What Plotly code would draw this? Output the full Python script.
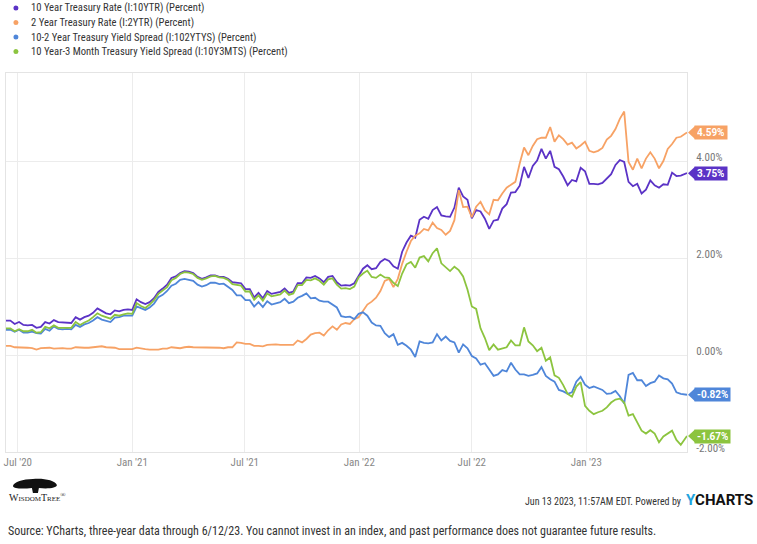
import plotly.graph_objects as go
import pandas as pd

# ---------------- data (weekly readings, last point 12 Jun 2023) ----------------
dates = list(pd.date_range("2020-06-12", periods=156, freq="7D")) + [pd.Timestamp("2023-06-12")]

ten_year = [
    0.71, 0.71, 0.64, 0.68, 0.62, 0.61, 0.62, 0.56, 0.58, 0.68, 0.65, 0.72, 0.68, 0.67, 0.67, 0.66,
    0.78, 0.73, 0.78, 0.81, 0.87, 0.96, 0.91, 0.86, 0.84, 0.92, 0.90, 0.93, 0.94,
    0.93, 1.15, 1.09, 1.05, 1.09, 1.17, 1.30, 1.37, 1.45, 1.59, 1.62, 1.69, 1.73, 1.72, 1.69, 1.61,
    1.57, 1.60, 1.64, 1.64, 1.61, 1.61, 1.57, 1.50, 1.49, 1.48, 1.36, 1.36, 1.19, 1.28, 1.17, 1.32,
    1.26, 1.28, 1.30, 1.37, 1.28, 1.31, 1.48, 1.48, 1.60, 1.59, 1.63, 1.58, 1.50, 1.61, 1.63, 1.50,
    1.43, 1.44, 1.43, 1.48,
    1.63, 1.78, 1.85, 1.77, 1.79, 1.92, 1.98, 1.94, 1.83, 1.78, 2.13, 2.32, 2.46, 2.42, 2.79, 2.85,
    2.81, 2.99, 3.05, 2.88, 2.86, 2.85, 3.04, 3.45, 3.27, 3.20, 2.82, 2.99, 2.96, 2.81, 2.60, 2.77,
    2.79, 3.02, 3.11, 3.35, 3.36, 3.49, 3.88, 3.65, 3.90, 4.01, 4.25, 4.05, 4.21, 3.88, 3.83, 3.68,
    3.50, 3.61, 3.58, 3.86,
    3.79, 3.53, 3.53, 3.52, 3.55, 3.64, 3.73, 3.92, 4.02, 3.98, 3.57, 3.48, 3.53, 3.33, 3.41, 3.60,
    3.50, 3.45, 3.52, 3.51, 3.76, 3.69, 3.70, 3.75,
]

two_year = [
    0.19, 0.19, 0.16, 0.16, 0.16, 0.15, 0.14, 0.11, 0.14, 0.14, 0.15, 0.13, 0.14, 0.14, 0.13, 0.13,
    0.16, 0.15, 0.15, 0.15, 0.16, 0.18, 0.18, 0.16, 0.16, 0.15, 0.12, 0.12, 0.13,
    0.12, 0.15, 0.13, 0.12, 0.11, 0.11, 0.11, 0.13, 0.13, 0.16, 0.15, 0.14, 0.16, 0.17, 0.16, 0.16,
    0.16, 0.16, 0.15, 0.15, 0.15, 0.14, 0.16, 0.16, 0.26, 0.25, 0.23, 0.23, 0.19, 0.19, 0.18, 0.21,
    0.22, 0.22, 0.21, 0.21, 0.21, 0.21, 0.30, 0.26, 0.33, 0.42, 0.45, 0.46, 0.40, 0.51, 0.59, 0.52,
    0.63, 0.66, 0.64, 0.74,
    0.78, 0.90, 1.04, 1.10, 1.18, 1.32, 1.53, 1.57, 1.40, 1.57, 1.88, 2.13, 2.35, 2.46, 2.51, 2.60,
    2.57, 2.73, 2.62, 2.58, 2.48, 2.56, 2.78, 3.40, 3.05, 3.06, 2.84, 3.06, 3.16, 2.98, 2.90, 3.20,
    3.19, 3.33, 3.45, 3.51, 3.57, 3.95, 4.28, 4.12, 4.31, 4.45, 4.48, 4.48, 4.70, 4.40, 4.53, 4.45,
    4.34, 4.38, 4.26, 4.32,
    4.40, 4.21, 4.18, 4.21, 4.27, 4.44, 4.52, 4.66, 4.87, 5.02, 3.98, 3.82, 4.05, 3.85, 4.05, 4.18,
    4.05, 3.85, 4.00, 4.25, 4.35, 4.48, 4.50, 4.59,
]

spread_10_2 = [
    0.52, 0.52, 0.48, 0.52, 0.46, 0.46, 0.48, 0.45, 0.44, 0.54, 0.50, 0.59, 0.54, 0.53, 0.54, 0.53,
    0.62, 0.58, 0.63, 0.66, 0.71, 0.78, 0.73, 0.70, 0.68, 0.77, 0.78, 0.81, 0.81,
    0.81, 1.00, 0.96, 0.93, 0.98, 1.06, 1.19, 1.24, 1.32, 1.43, 1.47, 1.55, 1.57, 1.55, 1.53, 1.45,
    1.41, 1.44, 1.49, 1.49, 1.46, 1.47, 1.41, 1.34, 1.23, 1.23, 1.13, 1.13, 1.00, 1.09, 0.99, 1.11,
    1.04, 1.06, 1.09, 1.16, 1.07, 1.10, 1.18, 1.22, 1.27, 1.17, 1.18, 1.12, 1.10, 1.10, 1.04, 0.98,
    0.80, 0.78, 0.79, 0.74,
    0.85, 0.88, 0.81, 0.67, 0.61, 0.60, 0.45, 0.37, 0.43, 0.21, 0.25, 0.19, 0.11, -0.04, 0.28, 0.25,
    0.24, 0.26, 0.43, 0.30, 0.38, 0.29, 0.26, 0.05, 0.22, 0.14, -0.02, -0.07, -0.20, -0.17, -0.30, -0.43,
    -0.40, -0.31, -0.34, -0.16, -0.30, -0.40, -0.40, -0.43, -0.41, -0.38, -0.25, -0.43, -0.50, -0.55, -0.72, -0.75,
    -0.80, -0.77, -0.55, -0.45,
    -0.61, -0.68, -0.65, -0.69, -0.72, -0.80, -0.79, -0.74, -0.85, -1.00, -0.41, -0.37, -0.52, -0.52, -0.64, -0.58,
    -0.55, -0.42, -0.48, -0.50, -0.59, -0.77, -0.80, -0.82,
]

spread_10_3m = [
    0.55, 0.55, 0.49, 0.53, 0.49, 0.49, 0.52, 0.46, 0.47, 0.58, 0.55, 0.61, 0.56, 0.56, 0.57, 0.56,
    0.68, 0.62, 0.67, 0.71, 0.78, 0.86, 0.81, 0.78, 0.75, 0.83, 0.81, 0.84, 0.86,
    0.85, 1.07, 1.01, 0.97, 1.04, 1.13, 1.26, 1.33, 1.40, 1.54, 1.59, 1.67, 1.71, 1.70, 1.67, 1.59,
    1.55, 1.58, 1.62, 1.63, 1.60, 1.59, 1.55, 1.46, 1.45, 1.43, 1.31, 1.31, 1.14, 1.23, 1.12, 1.27,
    1.21, 1.23, 1.25, 1.33, 1.24, 1.27, 1.44, 1.44, 1.55, 1.54, 1.58, 1.53, 1.45, 1.56, 1.58, 1.45,
    1.37, 1.38, 1.36, 1.41,
    1.60, 1.68, 1.74, 1.61, 1.59, 1.66, 1.60, 1.59, 1.49, 1.42, 1.68, 1.87, 1.92, 1.80, 2.01, 2.04,
    1.93, 2.10, 2.20, 1.89, 1.80, 1.73, 1.82, 1.75, 1.62, 1.35, 1.00, 0.95, 0.55, 0.35, 0.10, 0.22,
    0.11, 0.14, 0.16, 0.30, 0.20, 0.20, 0.57, 0.28, 0.20, 0.08, 0.15, -0.12, -0.05, -0.42, -0.47, -0.62,
    -0.80, -0.86, -0.65, -0.56,
    -1.05, -1.15, -1.22, -1.18, -1.15, -1.08, -0.98, -0.92, -0.90, -0.98, -1.25, -1.22, -1.38, -1.56, -1.62, -1.55,
    -1.62, -1.80, -1.68, -1.62, -1.56, -1.75, -1.85, -1.67,
]

series_names = [
    "10 Year Treasury Rate (I:10YTR) (Percent)",
    "2 Year Treasury Rate (I:2YTR) (Percent)",
    "10-2 Year Treasury Yield Spread (I:102YTYS) (Percent)",
    "10 Year-3 Month Treasury Yield Spread (I:10Y3MTS) (Percent)",
]
series_values = [ten_year, two_year, spread_10_2, spread_10_3m]
series_colors = ["#5b33c6", "#f7a265", "#4f86d9", "#8cc43f"]

x_tickvals = ["2020-07-01", "2021-01-01", "2021-07-01", "2022-01-01", "2022-07-01", "2023-01-01"]
x_ticktext = ["Jul '20", "Jan '21", "Jul '21", "Jan '22", "Jul '22", "Jan '23"]
y_tickvals = [-2, 0, 2, 4]
y_ticktext = ["-2.00%", "0.00%", "2.00%", "4.00%"]

# ---------------- layout helpers (pixel -> paper) ----------------
W, H = 757, 544
L, R, T, B = 4, 687, 73, 452


def px(x):
    return (x - L) / (R - L)


def py(y):
    return (B - y) / (B - T)


NARROW = "Liberation Sans Narrow, Roboto Condensed, Roboto, sans-serif"

fig = go.Figure()
for name, vals, col in zip(series_names, series_values, series_colors):
    fig.add_trace(go.Scatter(x=dates, y=vals, mode="lines", name=name,
                             line=dict(color=col, width=1.8), showlegend=False,
                             hoverinfo="skip"))

annotations = []
shapes = []

# legend (dot + text)
legend_y = [8, 22.5, 37, 51.5]
for name, col, yy in zip(series_names, series_colors, legend_y):
    shapes.append(dict(type="circle", xref="paper", yref="paper",
                       x0=px(11.5), x1=px(16.5), y0=py(yy + 2.5), y1=py(yy - 2.5),
                       fillcolor=col, line=dict(width=0)))
    annotations.append(dict(xref="paper", yref="paper", x=px(27), y=py(yy),
                            xanchor="left", yanchor="middle", showarrow=False,
                            text=name, font=dict(family=NARROW, size=10.6, color="#333333")))

# end-of-line value tags
for vals, col in zip(series_values, series_colors):
    last = vals[-1]
    shapes.append(dict(type="path", xref="paper", yref="y",
                       xsizemode="pixel", ysizemode="pixel", xanchor=1.0, yanchor=last,
                       path="M 1 0 L 8 6.5 L 8 -6.5 Z", fillcolor=col, line=dict(width=0)))
    annotations.append(dict(xref="paper", yref="y", x=1.0, y=last, xanchor="left",
                            yanchor="middle", xshift=7, showarrow=False,
                            text="<b>%.2f%%</b>" % last, bgcolor=col, borderpad=2, height=9,
                            font=dict(family="Roboto", size=10, color="white")))

# footer: logo
shapes.append(dict(type="path", xref="paper", yref="paper", xsizemode="pixel", ysizemode="pixel",
                   xanchor=px(33), yanchor=py(487),
                   path=("M -22 1 C -21 5, -12 8, -2 8 C 8 9, 20 7, 22 2 C 22 -1, 13 -2, 4 -1 "
                         "L 3 -6 L -2 -6 L -3 -1 C -12 -2, -21 -2, -22 1 Z"),
                   fillcolor="#111111", line=dict(width=0)))
annotations.append(dict(xref="paper", yref="paper", x=px(5), y=py(497), xanchor="left",
                        yanchor="middle", showarrow=False, text="WisdomTree<sup>®</sup>",
                        font=dict(family="Liberation Serif, serif", size=10, color="#222222",
                                  variant="small-caps")))
annotations.append(dict(xref="paper", yref="paper", x=px(683), y=py(501), xanchor="right",
                        yanchor="middle", showarrow=False,
                        text="Jun 13 2023, 11:57AM EDT. Powered by",
                        font=dict(family=NARROW, size=10, color="#333333")))
annotations.append(dict(xref="paper", yref="paper", x=px(684), y=py(500), xanchor="left",
                        yanchor="middle", showarrow=False,
                        text='<b><span style="color:#1ea4de">Y</span>CHARTS</b>',
                        font=dict(family="Roboto", size=15, color="#111111")))
annotations.append(dict(xref="paper", yref="paper", x=px(4), y=py(531), xanchor="left",
                        yanchor="middle", showarrow=False,
                        text=("Source: YCharts, three-year data through 6/12/23. You cannot invest in an index, "
                              "and past performance does not guarantee future results."),
                        font=dict(family=NARROW, size=12, color="#333333")))

fig.update_layout(
    width=W, height=H,
    margin=dict(l=L, r=W - R, t=T, b=H - B),
    paper_bgcolor="white", plot_bgcolor="white",
    showlegend=False,
    annotations=annotations, shapes=shapes,
    xaxis=dict(type="date", range=[dates[0], dates[-1]], tickvals=x_tickvals, ticktext=x_ticktext,
               showgrid=True, gridcolor="#ececec", gridwidth=1, showline=True, linecolor="#e4e4e4",
               mirror=True, ticks="", tickfont=dict(family=NARROW, size=11, color="#888888")),
    yaxis=dict(side="right", range=[-2.0, 5.815], tickvals=y_tickvals, ticktext=y_ticktext,
               showgrid=True, gridcolor="#ececec", gridwidth=1, zeroline=False, showline=True,
               linecolor="#e4e4e4", mirror=True, ticks="", ticklabelstandoff=6, ticklabelshift=-4,
               tickfont=dict(family=NARROW, size=11, color="#777777")),
)

fig.write_html("out.html")
